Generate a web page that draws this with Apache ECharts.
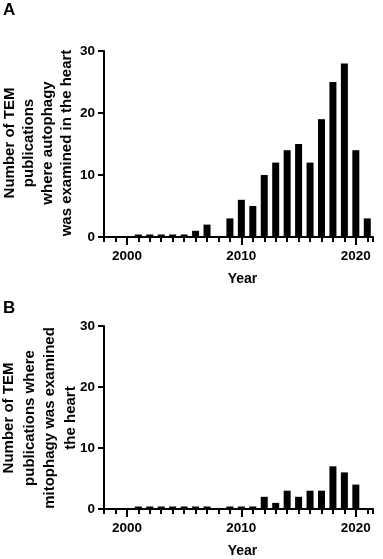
<!DOCTYPE html>
<html>
<head>
<meta charset="utf-8">
<script src="https://cdn.jsdelivr.net/npm/echarts@6/dist/echarts.min.js"></script>
<style>
  html, body { margin: 0; padding: 0; background: #fff; }
  #chart { width: 383px; height: 559px; }
</style>
</head>
<body>
<div id="chart"></div>
<script>
// years shown on the x axis, one bar per year
const years = [2001, 2002, 2003, 2004, 2005, 2006, 2007, 2008, 2009, 2010,
  2011, 2012, 2013, 2014, 2015, 2016, 2017, 2018, 2019, 2020, 2021];
// null = no bar drawn, 0 = flat bar on the axis
const autophagyCounts = [0, 0, 0, 0, 0, 1, 2, null, 3, 6,
  5, 10, 12, 14, 15, 12, 19, 25, 28, 14, 3];
const mitophagyCounts = [0, 0, 0, 0, 0, 0, 0, null, 0, 0,
  0, 2, 1, 3, 2, 3, 3, 7, 6, 4, null];
const yearLabels = [2000, 2010, 2020];
const countTicks = [0, 10, 20, 30];

const FONT = "Liberation Sans";

function pairs(vals) {
  return years.map((y, i) => [y, vals[i] == null ? "-" : vals[i]]);
}

function xAxes(gridIndex) {
  return [
    {
      type: "value",
      gridIndex: gridIndex,
      position: "bottom",
      min: 1998,
      max: 2021.5,
      interval: 1,
      splitLine: { show: false },
      axisLine: { show: true, lineStyle: { color: "#000", width: 2 } },
      axisTick: { show: true, length: 5, lineStyle: { color: "#000", width: 2 } },
      axisLabel: {
        customValues: yearLabels,
        formatter: (v) => String(v),
        margin: 12,
        color: "#000",
        fontFamily: FONT,
        fontWeight: "bold",
        fontSize: 13.5
      },
      name: "Year",
      nameLocation: "middle",
      nameGap: 35,
      nameTextStyle: {
        color: "#000",
        fontFamily: FONT,
        fontWeight: "bold",
        fontSize: 14,
        padding: [0, 0, 0, 8]
      }
    },
    {
      // longer ticks at the labelled decades
      type: "value",
      gridIndex: gridIndex,
      position: "bottom",
      min: 1998,
      max: 2021.5,
      splitLine: { show: false },
      axisLine: { show: false },
      axisTick: {
        show: true,
        customValues: yearLabels,
        length: 8,
        lineStyle: { color: "#000", width: 2 }
      },
      axisLabel: { show: false }
    }
  ];
}

function yAxis(gridIndex) {
  return {
    type: "value",
    gridIndex: gridIndex,
    min: countTicks[0],
    max: countTicks[countTicks.length - 1],
    interval: 10,
    splitLine: { show: false },
    axisLine: { show: true, lineStyle: { color: "#000", width: 2 } },
    axisTick: { show: true, length: 6, lineStyle: { color: "#000", width: 2 } },
    axisLabel: {
      margin: 9,
      color: "#000",
      fontFamily: FONT,
      fontWeight: "bold",
      fontSize: 13.5
    }
  };
}

function barSeries(vals, idx) {
  return {
    type: "bar",
    xAxisIndex: idx * 2,
    yAxisIndex: idx,
    data: pairs(vals),
    barWidth: 7,
    barMinHeight: 2.5,
    itemStyle: { color: "#000" },
    silent: true,
    animation: false
  };
}

function titleText(text, x, y, lh) {
  return {
    type: "text",
    x: x,
    y: y,
    rotation: Math.PI / 2,
    style: {
      text: text,
      fill: "#000",
      font: "bold 15px " + FONT,
      lineHeight: lh,
      align: "center",
      verticalAlign: "middle"
    }
  };
}

const option = {
  backgroundColor: "#fff",
  animation: false,
  grid: [
    { left: 104, top: 51, width: 269, height: 186 },
    { left: 104, top: 326, width: 269, height: 185 }
  ],
  xAxis: xAxes(0).concat(xAxes(1)),
  yAxis: [yAxis(0), yAxis(1)],
  series: [barSeries(autophagyCounts, 0), barSeries(mitophagyCounts, 1)],
  graphic: [
    { type: "text", x: 3, y: 2, style: { text: "A", fill: "#000", font: "bold 17px " + FONT } },
    { type: "text", x: 3, y: 300, style: { text: "B", fill: "#000", font: "bold 17px " + FONT } },
    titleText("Number of TEM\npublications\nwhere autophagy\nwas examined in the heart", 38, 143, 19),
    titleText("Number of TEM\npublications where\nmitophagy was examined\nthe heart", 40, 418, 20.5)
  ]
};

const myChart = echarts.init(document.getElementById("chart"));
myChart.setOption(option);
</script>
</body>
</html>
